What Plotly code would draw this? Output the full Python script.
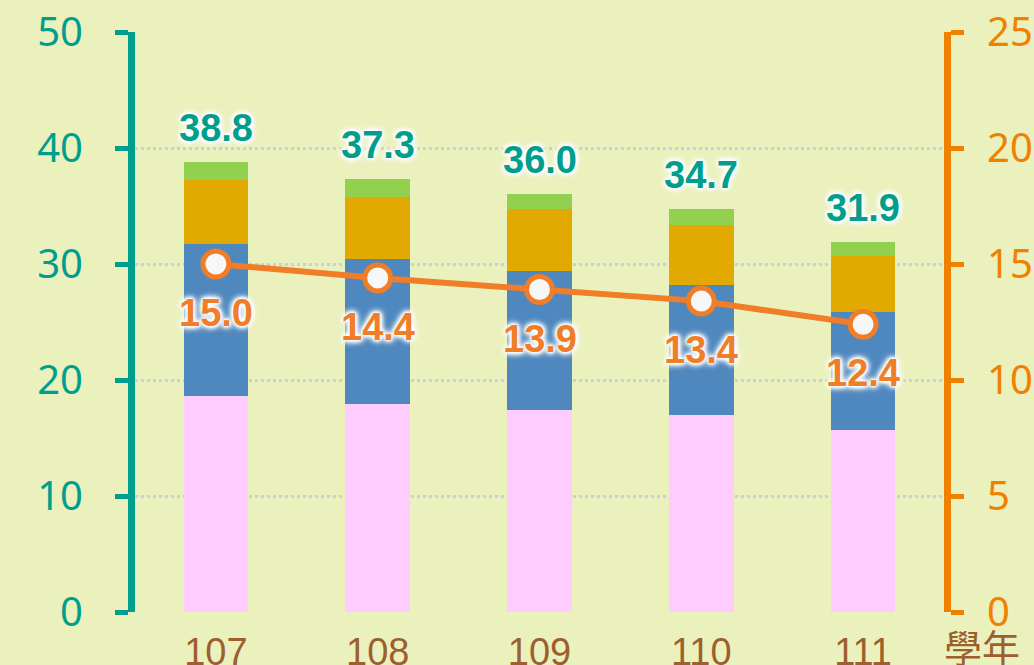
import plotly.graph_objects as go

years = ["107", "108", "109", "110", "111"]
pink_vals = [18.6, 17.9, 17.4, 17.0, 15.7]
blue_vals = [13.1, 12.5, 12.0, 11.2, 10.2]
gold_vals = [5.5, 5.4, 5.3, 5.2, 4.8]
green_vals = [1.6, 1.5, 1.3, 1.3, 1.2]
totals = [38.8, 37.3, 36.0, 34.7, 31.9]
line_vals = [15.0, 14.4, 13.9, 13.4, 12.4]
left_ticks = [0, 10, 20, 30, 40, 50]
right_ticks = [0, 5, 10, 15, 20, 25]

TEAL = "#009E8C"
ORANGE_AX = "#F08000"
LINE_C = "#F07D28"
BROWN = "#9C5F2E"
BG = "#EBF1BD"
GLOW = ("0px 0px 2px white, 0px 0px 3px white, 0px 0px 4px white, "
        "0px 0px 5px white, 0px 0px 6px white, 0px 0px 7px white, 0px 0px 9px white")

fig = go.Figure()
for vals, col in [(pink_vals, "#FFCCFF"), (blue_vals, "#4F88BE"),
                  (gold_vals, "#E2A900"), (green_vals, "#92D050")]:
    fig.add_trace(go.Bar(x=years, y=vals, marker=dict(color=col, line=dict(width=0)),
                         width=0.4, showlegend=False, hoverinfo="y", yaxis="y"))

fig.add_trace(go.Scatter(x=years, y=line_vals, yaxis="y2", mode="lines+markers",
                         line=dict(color=LINE_C, width=6),
                         marker=dict(size=26, color="#F7F7F7", line=dict(color=LINE_C, width=5)),
                         showlegend=False))

annotations = []
for i, t in enumerate(totals):
    annotations.append(dict(x=i, y=t, xref="x", yref="y", text=f"<b>{t:.1f}</b>", showarrow=False,
                            yshift=34, font=dict(family="Liberation Sans, Arial", size=38,
                                                 color=TEAL, shadow=GLOW)))
for i, v in enumerate(line_vals):
    annotations.append(dict(x=i, y=v, xref="x", yref="y2", text=f"<b>{v:.1f}</b>", showarrow=False,
                            yshift=-49, font=dict(family="Liberation Sans, Arial", size=38,
                                                  color=LINE_C, shadow=GLOW)))
annotations.append(dict(x=1.0, y=0, xref="paper", yref="paper", xanchor="left", yanchor="top",
                        xshift=-2, yshift=-4, text="學年", showarrow=False,
                        font=dict(family="Noto Sans CJK TC", size=38, color=BROWN)))

fig.update_layout(
    width=1034, height=665,
    margin=dict(l=135, r=90, t=32, b=53, autoexpand=False),
    paper_bgcolor=BG, plot_bgcolor=BG,
    barmode="stack",
    showlegend=False,
    annotations=annotations,
    xaxis=dict(type="category", range=[-0.5, 4.5], showgrid=False, zeroline=False,
               showline=False, ticks="", automargin=False, ticklabelstandoff=14,
               tickfont=dict(family="Liberation Sans, Arial", size=38, color=BROWN)),
    yaxis=dict(range=[0, 50], tickvals=left_ticks, showgrid=True, gridcolor="#CCCCE2",
               gridwidth=3, griddash="dot", zeroline=False, automargin=False,
               showline=True, linecolor=TEAL, linewidth=7,
               ticks="outside", ticklen=13, tickwidth=5, tickcolor=TEAL,
               ticklabelstandoff=24,
               tickfont=dict(family="Noto Sans", size=40, color=TEAL)),
    yaxis2=dict(range=[0, 25], tickvals=right_ticks, overlaying="y", side="right",
                showgrid=False, zeroline=False, automargin=False,
                showline=True, linecolor=ORANGE_AX, linewidth=7,
                ticks="outside", ticklen=13, tickwidth=5, tickcolor=ORANGE_AX,
                ticklabelstandoff=15,
                tickfont=dict(family="Noto Sans", size=40, color=ORANGE_AX)),
)

fig.write_html("out.html")
